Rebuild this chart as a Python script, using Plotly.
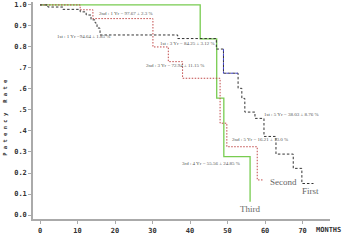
import plotly.graph_objects as go

# ---- data (months, survival) ----
first_t = [0, 2.1, 6.1, 10.7, 12.3, 13.6, 14.7, 15.2, 16.0, 36.7, 47.0, 48.9, 52.8, 53.8, 54.6, 57.3, 59.7, 62.9, 67.5, 69.8, 72.9]
first_s = [1.0, 0.99, 0.979, 0.967, 0.952, 0.929, 0.914, 0.89, 0.857, 0.84, 0.79, 0.675, 0.603, 0.555, 0.49, 0.46, 0.374, 0.29, 0.222, 0.15, 0.15]

blue_t = [48.9, 48.9, 52.8]
blue_s = [0.79, 0.675, 0.675]

second_t = [0, 10.7, 14.1, 30.1, 34.2, 38.0, 48.0, 49.8, 57.9, 59.5]
second_s = [1.0, 0.977, 0.935, 0.80, 0.73, 0.651, 0.437, 0.325, 0.167, 0.167]

third_t = [0, 42.7, 47.1, 49.0, 56.0]
third_s = [1.0, 0.838, 0.556, 0.278, 0.063]

x_ticks = [0, 10, 20, 30, 40, 50, 60, 70]
y_ticks = [0.0, 0.1, 0.2, 0.3, 0.4, 0.5, 0.6, 0.7, 0.8, 0.9, 1.0]
y_ticktext = ["0.0", "0.1", "0.2", "0.3", ".4", ".5", ".6", ".7", "0.8", "0.9", "1.0"]

notes = [
    ("2nd : 1 Yr = 97.67 \u00b1 2.3 %", 15.2, 0.96),
    ("1st : 1 Yr =94.64 \u00b1 1.85 %", 4.0, 0.849),
    ("1st : 3 Yr = 84.25 \u00b1 3.12 %", 31.5, 0.818),
    ("2nd : 3 Yr = 72.94 \u00b1 11.15 %", 27.7, 0.711),
    ("1st : 5 Yr = 38.03 \u00b1 8.76 %", 59.1, 0.48),
    ("2nd : 5 Yr = 16.21 \u00b1 13.0 %", 50.7, 0.36),
    ("3rd : 4 Yr = 55.56 \u00b1 24.85 %", 37.3, 0.246),
]
labels = [("Second", 60.8, 0.159), ("First", 69.3, 0.116), ("Third", 52.9, 0.029)]

fig = go.Figure()
fig.add_trace(go.Scatter(x=third_t, y=third_s, mode="lines", line_shape="hv",
                         line=dict(color="#78cc50", width=1.3), showlegend=False))
fig.add_trace(go.Scatter(x=second_t, y=second_s, mode="lines", line_shape="hv",
                         line=dict(color="#c04848", width=1, dash="1.5px,1.5px"), showlegend=False))
fig.add_trace(go.Scatter(x=first_t, y=first_s, mode="lines", line_shape="hv",
                         line=dict(color="#333333", width=1, dash="2.5px,2px"), showlegend=False))
fig.add_trace(go.Scatter(x=blue_t, y=blue_s, mode="lines",
                         line=dict(color="#4040c8", width=1, dash="2.5px,2px"), showlegend=False))

mono = dict(family="DejaVu Sans Mono", size=7, color="#333333", weight="bold")

fig.update_xaxes(range=[-1.87, 77.3], tickvals=x_ticks, ticktext=[str(v) for v in x_ticks],
                 showgrid=False, zeroline=False, showline=True, linecolor="#aaaaaa", linewidth=1.5,
                 ticks="outside", ticklen=3, tickcolor="#aaaaaa", tickfont=mono, ticklabelstandoff=1)
fig.update_yaxes(range=[-0.019, 1.014], tickvals=y_ticks, ticktext=y_ticktext,
                 showgrid=False, zeroline=False, showline=True, linecolor="#aaaaaa", linewidth=1.5,
                 ticks="outside", ticklen=3, tickcolor="#aaaaaa", tickfont=mono)

for txt, x, y in notes:
    fig.add_annotation(x=x, y=y, text=txt, showarrow=False, xanchor="left", yanchor="middle",
                       font=dict(family="Liberation Serif", size=5, color="#555555"))
for txt, x, y in labels:
    fig.add_annotation(x=x, y=y, text=txt, showarrow=False, xanchor="left", yanchor="middle",
                       font=dict(family="Liberation Serif", size=9, color="#666666"))

fig.add_annotation(xref="paper", yref="paper", x=1.044, y=-0.0507, text="MONTHS", showarrow=False,
                   xanchor="right", yanchor="middle", font=mono)
fig.add_annotation(xref="paper", yref="paper", x=-0.095, y=0.47, text="P a t e n c y   R a t e",
                   textangle=-90, showarrow=False, xanchor="center", yanchor="middle",
                   font=dict(family="DejaVu Sans Mono", size=5.5, color="#333333", weight="bold"))

fig.update_layout(width=345, height=250, margin=dict(l=33, r=15, t=2, b=31),
                  plot_bgcolor="white", paper_bgcolor="white")

fig.write_html("out.html")
